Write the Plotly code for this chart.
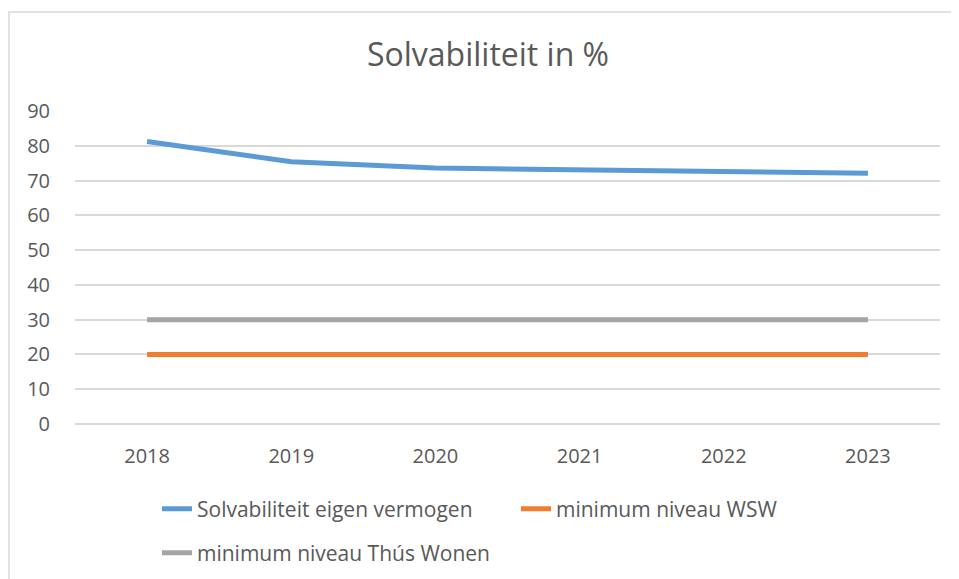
import plotly.graph_objects as go

years = ["2018", "2019", "2020", "2021", "2022", "2023"]
solvabiliteit = [81.2, 75.4, 73.6, 73.2, 72.8, 72.1]
minimum_wsw = [20, 20, 20, 20, 20, 20]
minimum_thus = [30, 30, 30, 30, 30, 30]

FONT = "'Open Sans', sans-serif"
TXT = "#595959"
OFF = 8  # page body margin

fig = go.Figure()
fig.add_trace(go.Scatter(x=years, y=solvabiliteit, mode="lines", name="Solvabiliteit eigen vermogen",
                         line=dict(color="#5b9bd5", width=5), legend="legend"))
fig.add_trace(go.Scatter(x=years, y=minimum_wsw, mode="lines", name="minimum niveau WSW",
                         line=dict(color="#ed7d31", width=5), legend="legend2"))
fig.add_trace(go.Scatter(x=years, y=minimum_thus, mode="lines", name="minimum niveau Thús Wonen",
                         line=dict(color="#a5a5a5", width=5), legend="legend3"))

W, H = 959, 579
PL, PR, PT, PB = 75 - OFF, 940 - OFF, 111 - OFF, 424 - OFF  # plot area in figure px
L, R, T, B = PL, W - PR, PT, H - PB
PW = PR - PL
PH = PB - PT

def px(x):
    return (x - OFF - PL) / PW

def py(y):
    return (PB - (y - OFF)) / PH

LEGFONT = dict(size=21, color=TXT)

def leg(x, y):
    return dict(orientation="h", x=px(x), xanchor="left", y=py(y), yanchor="middle",
                font=LEGFONT, bgcolor="rgba(0,0,0,0)", visible=True)

fig.update_layout(
    width=W, height=H,
    margin=dict(l=L, r=R, t=T, b=B),
    paper_bgcolor="white", plot_bgcolor="white",
    showlegend=True,
    font=dict(family=FONT, size=20, color=TXT),
    title=dict(text="Solvabiliteit in %", x=px(488), xref="paper", xanchor="center",
               y=1 - (55 - OFF) / H, yanchor="middle", font=dict(size=32, color=TXT, family=FONT)),
    xaxis=dict(type="category", range=[-0.5, 5.5], showgrid=False, zeroline=False,
               showline=False, ticks="", ticklabelstandoff=18, tickfont=dict(size=20, color=TXT)),
    yaxis=dict(range=[0, 90], dtick=10, showgrid=True, gridcolor="#d9d9d9", gridwidth=1.5,
               zeroline=True, zerolinecolor="#d9d9d9", zerolinewidth=1.5, showline=False,
               ticks="", ticklabelstandoff=24, tickfont=dict(size=20, color=TXT)),
    legend=leg(157, 509),
    legend2=leg(516, 509),
    legend3=leg(157, 553),
    shapes=[dict(type="rect", xref="paper", yref="paper", x0=px(9), x1=px(958), y0=py(610), y1=py(12),
                 line=dict(color="#d9d9d9", width=1.5), fillcolor="rgba(0,0,0,0)", layer="below")],
)

fig.write_html("out.html")
